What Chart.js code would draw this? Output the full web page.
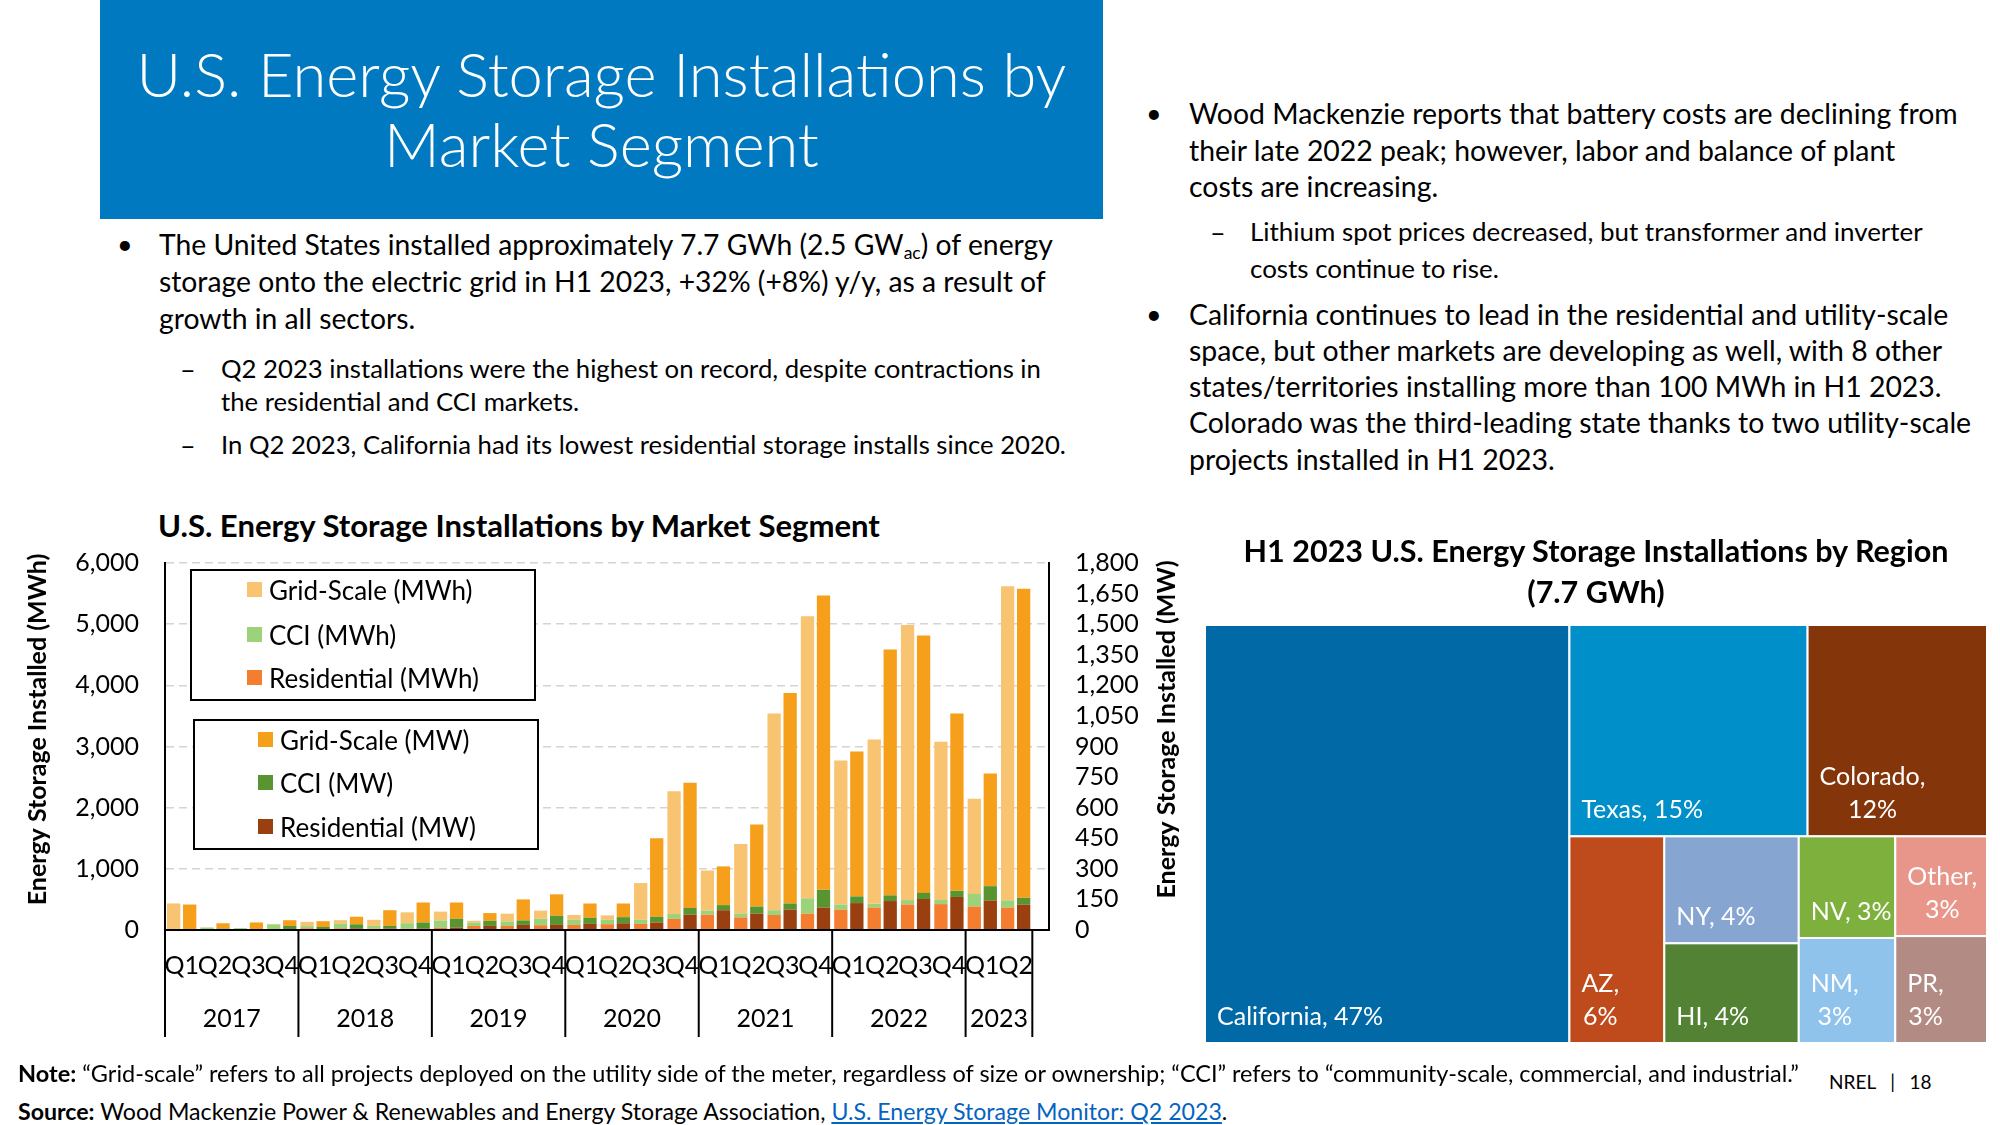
<!DOCTYPE html>
<html>
<head>
<meta charset="utf-8">
<script src="https://cdn.jsdelivr.net/npm/chart.js@4.4.0/dist/chart.umd.min.js"></script>
<style>
  html, body { margin: 0; padding: 0; background: #fff; }
  body { width: 2000px; height: 1125px; position: relative; overflow: hidden; font-family: Lato, "Open Sans", sans-serif; color: #000; }
  .abs { position: absolute; white-space: nowrap; }
  .ln { width: max-content; }
  sub { font-size: 0.62em; vertical-align: baseline; position: relative; top: 0.28em; line-height: 0; }
  #titleBox { left: 100px; top: 0; width: 1003px; height: 219px; background: #0079C1; }
  #titleText { left: 100px; width: 1003px; top: 38px; text-align: center; color: #fff; font-weight: 300; font-size: 64px; line-height: 70px; }
  #titleText .ln, #mapTitle .ln { margin: 0 auto; }
  .lgBox { position: absolute; box-sizing: border-box; border: 2px solid #000; background: #fff; }
  .lgRow { position: absolute; white-space: nowrap; font-size: 26px; line-height: 44px; height: 44px; }
  .sw { position: absolute; width: 15px; height: 15px; top: 14px; }
  a { color: #0563C1; text-decoration: underline; }
</style>
</head>
<body>

<div class="abs" id="titleBox"></div>
<div class="abs" id="titleText" data-fit="930">
  <div class="ln">U.S. Energy Storage Installations by</div>
  <div class="ln">Market Segment</div>
</div>

<!-- left bullets -->
<div class="abs" style="left:117px;top:225px;font-size:27px;line-height:37px">•</div>
<div class="abs" id="lb1" data-fit="894" style="left:159px;top:225.5px;font-size:27px;line-height:37px">
  <div class="ln">The United States installed approximately 7.7 GWh (2.5 GW<sub>ac</sub>) of energy</div>
  <div class="ln">storage onto the electric grid in H1 2023, +32% (+8%) y/y, as a result of</div>
  <div class="ln">growth in all sectors.</div>
</div>
<div class="abs" style="left:180px;top:352px;font-size:27px;line-height:33px">–</div>
<div class="abs" id="ls1" data-fit="820" style="left:221px;top:352px;font-size:24px;line-height:33px">
  <div class="ln">Q2 2023 installations were the highest on record, despite contractions in</div>
  <div class="ln">the residential and CCI markets.</div>
</div>
<div class="abs" style="left:180px;top:427.5px;font-size:27px;line-height:33px">–</div>
<div class="abs" id="ls2" data-same="ls1" style="left:221px;top:427.5px;font-size:24px;line-height:33px">
  <div class="ln">In Q2 2023, California had its lowest residential storage installs since 2020.</div>
</div>

<!-- right bullets -->
<div class="abs" style="left:1146px;top:95px;font-size:27px;line-height:36.5px">•</div>
<div class="abs" id="rb1" data-fit="769" style="left:1189px;top:95px;font-size:27px;line-height:36.5px">
  <div class="ln">Wood Mackenzie reports that battery costs are declining from</div>
  <div class="ln">their late 2022 peak; however, labor and balance of plant</div>
  <div class="ln">costs are increasing.</div>
</div>
<div class="abs" style="left:1210px;top:212.5px;font-size:27px;line-height:37px">–</div>
<div class="abs" id="rs1" data-fit="673" style="left:1250px;top:212.5px;font-size:24px;line-height:37px">
  <div class="ln">Lithium spot prices decreased, but transformer and inverter</div>
  <div class="ln">costs continue to rise.</div>
</div>
<div class="abs" style="left:1146px;top:295.5px;font-size:27px;line-height:36.3px">•</div>
<div class="abs" id="rb2" data-same="rb1" style="left:1189px;top:295.5px;font-size:27px;line-height:36.3px">
  <div class="ln">California continues to lead in the residential and utility-scale</div>
  <div class="ln">space, but other markets are developing as well, with 8 other</div>
  <div class="ln">states/territories installing more than 100 MWh in H1 2023.</div>
  <div class="ln">Colorado was the third-leading state thanks to two utility-scale</div>
  <div class="ln">projects installed in H1 2023.</div>
</div>

<!-- bar chart -->
<div class="abs" id="chartTitle" data-fit="722" style="left:158px;top:507px;font-size:29px;line-height:36px;font-weight:700">
  <div class="ln">U.S. Energy Storage Installations by Market Segment</div>
</div>
<div class="abs" style="left:0;top:480px;width:1200px;height:580px">
  <canvas id="segChart" width="1200" height="580"></canvas>
</div>
<div class="lgBox" id="lg1" style="left:190px;top:569px;width:346px;height:132px"></div>
<div class="lgBox" id="lg2" style="left:193px;top:719px;width:346px;height:131px"></div>

<!-- treemap -->
<div class="abs" id="mapTitle" data-fit="705" style="left:1196px;width:800px;top:529.5px;text-align:center;font-size:28px;line-height:41px;font-weight:700">
  <div class="ln">H1 2023 U.S. Energy Storage Installations by Region</div>
  <div class="ln">(7.7 GWh)</div>
</div>
<div class="abs" style="left:1205px;top:625px;width:782px;height:418px">
  <canvas id="regionChart" width="782" height="418"></canvas>
</div>

<!-- footer -->
<div class="abs" id="note" data-fit="1782" style="left:18px;top:1057px;font-size:23px;line-height:32px">
  <div class="ln"><b>Note:</b> “Grid-scale” refers to all projects deployed on the utility side of the meter, regardless of size or ownership; “CCI” refers to “community-scale, commercial, and industrial.”</div>
</div>
<div class="abs" id="source" data-fit="1210" style="left:18px;top:1095px;font-size:23px;line-height:32px">
  <div class="ln"><b>Source:</b> Wood Mackenzie Power &amp; Renewables and Energy Storage Association, <a>U.S. Energy Storage Monitor: Q2 2023</a>.</div>
</div>
<div class="abs" style="left:1829px;top:1069px;font-size:19px;line-height:26px">NREL&nbsp;&nbsp;&nbsp;|&nbsp;&nbsp;&nbsp;18</div>

<script>
// === DATA ===
const quarterLabels = [
  "Q1", "Q2", "Q3", "Q4", "Q1", "Q2", "Q3", "Q4", "Q1", "Q2", "Q3", "Q4",
  "Q1", "Q2", "Q3", "Q4", "Q1", "Q2", "Q3", "Q4", "Q1", "Q2", "Q3", "Q4",
  "Q1", "Q2",
];
const yearLabels = ["2017", "2018", "2019", "2020", "2021", "2022", "2023"];
const quartersPerYear = [4, 4, 4, 4, 4, 4, 2];

// MWh (left axis)
const gridScaleMWh = [425, 5, 3, 10, 70, 60, 100, 178, 145, 28, 128, 133, 78, 72, 600, 2008, 656, 1140, 3217, 4611, 2354, 2687, 4497, 2587, 1554, 5135];
const cciMWh = [5, 35, 28, 80, 35, 73, 45, 89, 117, 55, 72, 106, 83, 72, 67, 78, 67, 61, 78, 250, 83, 61, 72, 67, 206, 117];
const residentialMWh = [4, 4, 2, 10, 28, 28, 22, 22, 39, 67, 67, 78, 84, 95, 100, 183, 250, 206, 245, 267, 334, 367, 417, 423, 384, 367];

// MW (right axis)
const gridScaleMW = [120, 26, 34, 28, 28, 37, 77, 98, 80, 38, 103, 105, 70, 67, 385, 614, 190, 403, 1032, 1444, 711, 1206, 1263, 870, 553, 1516];
const cciMW = [3, 6, 3, 18, 10, 20, 13, 30, 43, 25, 22, 45, 30, 30, 28, 33, 25, 35, 30, 87, 33, 28, 30, 30, 70, 33];
const residentialMW = [2, 1, 0, 2, 5, 8, 7, 7, 12, 20, 25, 25, 30, 33, 37, 75, 97, 80, 100, 110, 132, 142, 152, 162, 145, 125];

const leftAxisTitle = "Energy Storage Installed (MWh)";
const rightAxisTitle = "Energy Storage Installed (MW)";

// H1 2023 by region (share of 7.7 GWh, %)
const regionNames = ["California", "Texas", "Colorado", "AZ", "NY", "HI", "NV", "NM", "Other", "PR"];
const regionShares = [46.6, 15.4, 11.6, 6.0, 4.4, 4.1, 3.0, 3.1, 2.8, 3.0];
const regionLabels = [
  ["California, 47%"], ["Texas, 15%"], ["Colorado,", "12%"], ["AZ,", "6%"], ["NY, 4%"],
  ["HI, 4%"], ["NV, 3%"], ["NM,", "3%"], ["Other,", "3%"], ["PR,", "3%"],
];
const regionColors = ["#0069A6", "#008FC9", "#84350A", "#BF4A1B", "#86A6D1", "#548235", "#7DB03C", "#8FC3EC", "#E9968A", "#B38B85"];
// nesting of the treemap: rows split horizontally, cols split vertically
const regionTree = { dir: "row", kids: [0, { dir: "col", kids: [
  { dir: "row", kids: [1, 2] },
  { dir: "row", kids: [3, { dir: "col", kids: [4, 5] }, { dir: "col", kids: [6, 7] }, { dir: "col", kids: [8, 9] }] },
] }] };

// === FIT TEXT BLOCKS TO THE ORIGINAL LINE WIDTHS ===
document.querySelectorAll("[data-fit]").forEach((el) => {
  const first = el.querySelector(".ln");
  const w = first.getBoundingClientRect().width;
  const fs = parseFloat(getComputedStyle(el).fontSize);
  el.style.fontSize = (fs * (+el.dataset.fit) / w).toFixed(2) + "px";
});
document.querySelectorAll("[data-same]").forEach((el) => {
  el.style.fontSize = document.getElementById(el.dataset.same).style.fontSize;
});

// === BAR CHART ===
Chart.defaults.font.family = "Lato";
Chart.defaults.color = "#000";

const pts = (arr) => arr.map((v, i) => ({ x: i, y: v }));
const tickFont = { size: 25 };

// year row + separators under the quarter labels
const yearAxis = {
  id: "yearAxis",
  afterDraw(chart) {
    const { ctx, chartArea, scales: { x } } = chart;
    ctx.save();
    ctx.strokeStyle = "#000";
    ctx.lineWidth = 2;
    ctx.fillStyle = "#000";
    ctx.font = "25px Lato";
    ctx.textAlign = "center";
    ctx.textBaseline = "middle";
    const sep = (px) => {
      ctx.beginPath();
      ctx.moveTo(px, chartArea.bottom);
      ctx.lineTo(px, chartArea.bottom + 107);
      ctx.stroke();
    };
    let start = 0;
    yearLabels.forEach((yr, i) => {
      const x0 = x.getPixelForValue(start - 0.5);
      const x1 = x.getPixelForValue(start + quartersPerYear[i] - 0.5);
      sep(x0);
      if (i === yearLabels.length - 1) sep(x1);
      ctx.fillText(yr, (x0 + x1) / 2, chartArea.bottom + 89);
      start += quartersPerYear[i];
    });
    ctx.restore();
  },
};

// both axis titles read bottom-to-top, as in the original
const axisTitles = {
  id: "axisTitles",
  afterDraw(chart) {
    const { ctx, chartArea, scales: { y, y1 } } = chart;
    const cy = (chartArea.top + chartArea.bottom) / 2 - 17;
    ctx.save();
    ctx.font = "bold 25px Lato";
    ctx.fillStyle = "#000";
    ctx.textAlign = "center";
    ctx.textBaseline = "middle";
    [[y.left + 38, leftAxisTitle], [y1.right - 33, rightAxisTitle]].forEach(([cx, t]) => {
      ctx.save();
      ctx.translate(cx, cy);
      ctx.rotate(-Math.PI / 2);
      ctx.fillText(t, 0, 0);
      ctx.restore();
    });
    ctx.restore();
  },
};

const segChart = new Chart(document.getElementById("segChart"), {
  type: "bar",
  data: {
    datasets: [
      { label: "Residential (MWh)", data: pts(residentialMWh), backgroundColor: "#F47D30", stack: "MWh", yAxisID: "y" },
      { label: "CCI (MWh)", data: pts(cciMWh), backgroundColor: "#9BD27A", stack: "MWh", yAxisID: "y" },
      { label: "Grid-Scale (MWh)", data: pts(gridScaleMWh), backgroundColor: "#F8C471", stack: "MWh", yAxisID: "y" },
      { label: "Residential (MW)", data: pts(residentialMW), backgroundColor: "#9A3F0F", stack: "MW", yAxisID: "y1" },
      { label: "CCI (MW)", data: pts(cciMW), backgroundColor: "#589530", stack: "MW", yAxisID: "y1" },
      { label: "Grid-Scale (MW)", data: pts(gridScaleMW), backgroundColor: "#F59F1B", stack: "MW", yAxisID: "y1" },
    ],
  },
  options: {
    responsive: false,
    animation: false,
    categoryPercentage: 0.96,
    barPercentage: 0.83,
    layout: { padding: { top: 83, left: 0, right: 0, bottom: 0 } },
    plugins: { legend: { display: false }, tooltip: { enabled: false } },
    scales: {
      x: {
        type: "linear",
        min: -0.5,
        max: 26,
        offset: false,
        grid: { display: false, drawTicks: false, offset: false },
        border: { display: true, color: "#000", width: 2, z: 1 },
        afterBuildTicks: (s) => { s.ticks = quarterLabels.map((q, i) => ({ value: i })); },
        ticks: { callback: (v) => quarterLabels[v], font: tickFont, padding: 21, maxRotation: 0, autoSkip: false },
        afterFit: (s) => { s.height = 130; },
      },
      y: {
        position: "left",
        min: 0,
        max: 6000,
        stacked: true,
        ticks: { stepSize: 1000, callback: (v) => v.toLocaleString("en-US"), font: tickFont, padding: 26, autoSkip: false },
        grid: { color: "#D4D4D4", lineWidth: 1.5, drawTicks: false },
        border: { color: "#000", width: 2, dash: [8, 5] },
        afterFit: (s) => { s.width = 165; },
      },
      y1: {
        position: "right",
        min: 0,
        max: 1800,
        stacked: true,
        ticks: { stepSize: 150, callback: (v) => v.toLocaleString("en-US"), font: tickFont, padding: 26, autoSkip: false },
        grid: { display: false, drawTicks: false },
        border: { color: "#000", width: 2 },
        afterFit: (s) => { s.width = 151; },
      },
    },
  },
  plugins: [yearAxis, axisTitles],
});

// legends (top to bottom: grid-scale, CCI, residential)
function buildLegend(boxId, idxs, swLeft, rowTops) {
  const box = document.getElementById(boxId);
  idxs.forEach((di, j) => {
    const ds = segChart.data.datasets[di];
    const row = document.createElement("div");
    row.className = "lgRow";
    row.style.left = swLeft + "px";
    row.style.top = rowTops[j] + "px";
    row.style.paddingLeft = "22px";
    row.innerHTML = `<span class="sw" style="left:0;background:${ds.backgroundColor}"></span>${ds.label}`;
    box.appendChild(row);
  });
}
buildLegend("lg1", [2, 1, 0], 55, [-3, 42, 85]);
buildLegend("lg2", [5, 4, 3], 63, [-3, 40, 84]);

// === TREEMAP ===
function nodeSize(n) {
  return typeof n === "number" ? regionShares[n] : n.kids.reduce((s, k) => s + nodeSize(k), 0);
}
function sliceLayout(n, x0, y0, x1, y1, out) {
  if (typeof n === "number") { out.push({ i: n, x0, y0, x1, y1 }); return; }
  const total = nodeSize(n);
  let pos = n.dir === "row" ? x0 : y0;
  n.kids.forEach((k) => {
    const f = nodeSize(k) / total;
    if (n.dir === "row") { const w = (x1 - x0) * f; sliceLayout(k, pos, y0, pos + w, y1, out); pos += w; }
    else { const h = (y1 - y0) * f; sliceLayout(k, x0, pos, x1, pos + h, out); pos += h; }
  });
}

const treemapCells = {
  id: "treemapCells",
  afterDraw(chart) {
    const { ctx, scales: { x, y } } = chart;
    const cells = [];
    sliceLayout(regionTree, 0, 0, 100, 100, cells);
    ctx.save();
    cells.forEach((c) => {
      const px0 = x.getPixelForValue(c.x0), px1 = x.getPixelForValue(c.x1);
      const py0 = y.getPixelForValue(c.y0), py1 = y.getPixelForValue(c.y1);
      ctx.fillStyle = regionColors[c.i];
      ctx.fillRect(px0, py0, px1 - px0, py1 - py0);
      ctx.strokeStyle = "#fff";
      ctx.lineWidth = 2;
      ctx.strokeRect(px0, py0, px1 - px0, py1 - py0);

      const lines = regionLabels[c.i];
      ctx.font = "25px Lato";
      ctx.fillStyle = "#fff";
      ctx.textAlign = "center";
      ctx.textBaseline = "middle";
      const maxW = Math.max(...lines.map((t) => ctx.measureText(t).width));
      const bx = px0 + 12 + maxW / 2;
      lines.forEach((t, j) => {
        ctx.fillText(t, bx, py1 - 26 - (lines.length - 1 - j) * 33.5);
      });
    });
    ctx.restore();
  },
};

new Chart(document.getElementById("regionChart"), {
  type: "scatter",
  data: { labels: regionNames, datasets: [] },
  options: {
    responsive: false,
    animation: false,
    layout: { padding: 0 },
    plugins: { legend: { display: false }, tooltip: { enabled: false } },
    scales: {
      x: { type: "linear", min: 0, max: 100, display: false },
      y: { type: "linear", min: 0, max: 100, reverse: true, display: false },
    },
  },
  plugins: [treemapCells],
});
</script>
</body>
</html>
